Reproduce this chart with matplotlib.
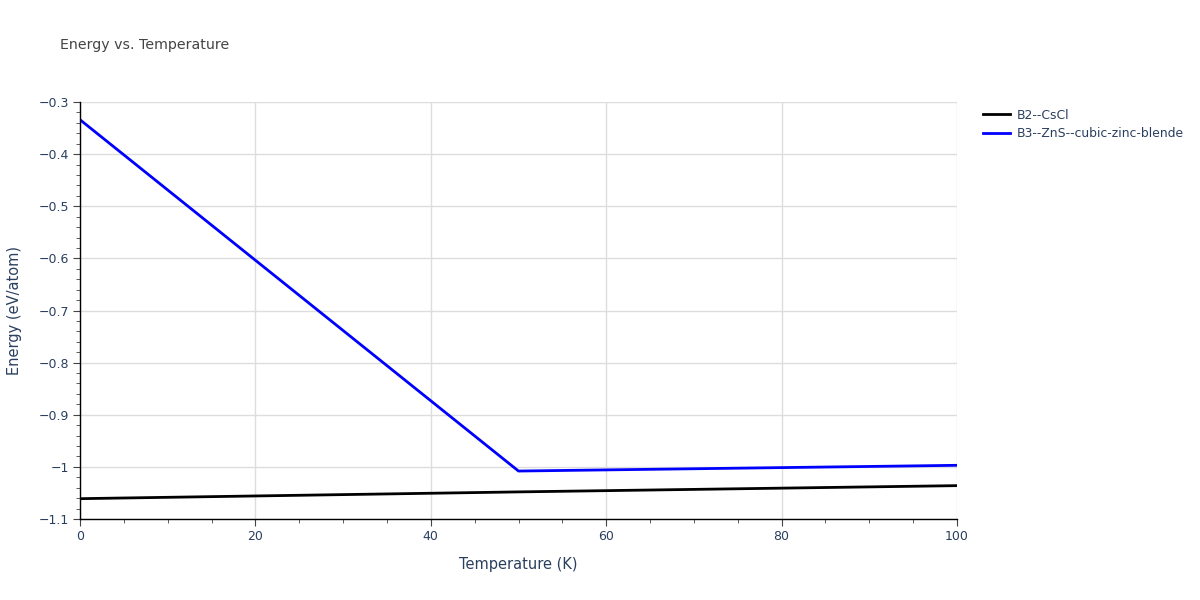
import matplotlib.pyplot as plt
from matplotlib.ticker import MultipleLocator

# values
temp_b2 = [0, 50, 100]
energy_b2 = [-1.061, -1.048, -1.036]

temp_b3 = [0, 50, 100]
energy_b3 = [-0.334, -1.008, -0.997]

labels = ["B2--CsCl", "B3--ZnS--cubic-zinc-blende"]
colors = ["black", "blue"]

text_col = "#2a3f5f"
plt.rcParams['font.family'] = ['DejaVu Sans']

fig = plt.figure(figsize=(12, 6), dpi=100)
ax = fig.add_axes([80/1200, 81/600, 877/1200, 417/600])

ax.plot(temp_b2, energy_b2, color=colors[0], lw=2, label=labels[0])
ax.plot(temp_b3, energy_b3, color=colors[1], lw=2, label=labels[1])

ax.set_xlim(0, 100)
ax.set_ylim(-1.1, -0.3)
ax.xaxis.set_major_locator(MultipleLocator(20))
ax.xaxis.set_minor_locator(MultipleLocator(5))
ax.yaxis.set_major_locator(MultipleLocator(0.1))
ax.yaxis.set_minor_locator(MultipleLocator(0.02))

ax.grid(True, which='major', color='#dddddd', lw=1)
ax.set_axisbelow(True)
for s in ['top', 'right']:
    ax.spines[s].set_visible(False)
for s in ['left', 'bottom']:
    ax.spines[s].set_color('black')
    ax.spines[s].set_linewidth(1)

ax.tick_params(which='major', length=5, color='#444444', labelcolor=text_col,
               labelsize=9, pad=3)
ax.tick_params(which='minor', length=3, color='#444444')

ax.yaxis.set_major_formatter(plt.FuncFormatter(
    lambda v, p: ('%g' % round(v, 2)).replace('-', '\u2212')))

ax.set_xlabel("Temperature (K)", color=text_col, fontsize=10.5, labelpad=10)
ax.set_ylabel("Energy (eV/atom)", color=text_col, fontsize=10.5, labelpad=12)

fig.text(60/1200, 1 - 45/600, "Energy vs. Temperature", color="#444444",
         fontsize=10.2, va='center', ha='left')

leg = ax.legend(loc='upper left', bbox_to_anchor=(1.02, 1.005), frameon=False,
                fontsize=8.9, handlelength=2.2, handletextpad=0.5,
                labelcolor=text_col, borderaxespad=0.3, labelspacing=0.45)

fig.savefig("out.png", dpi=100)
